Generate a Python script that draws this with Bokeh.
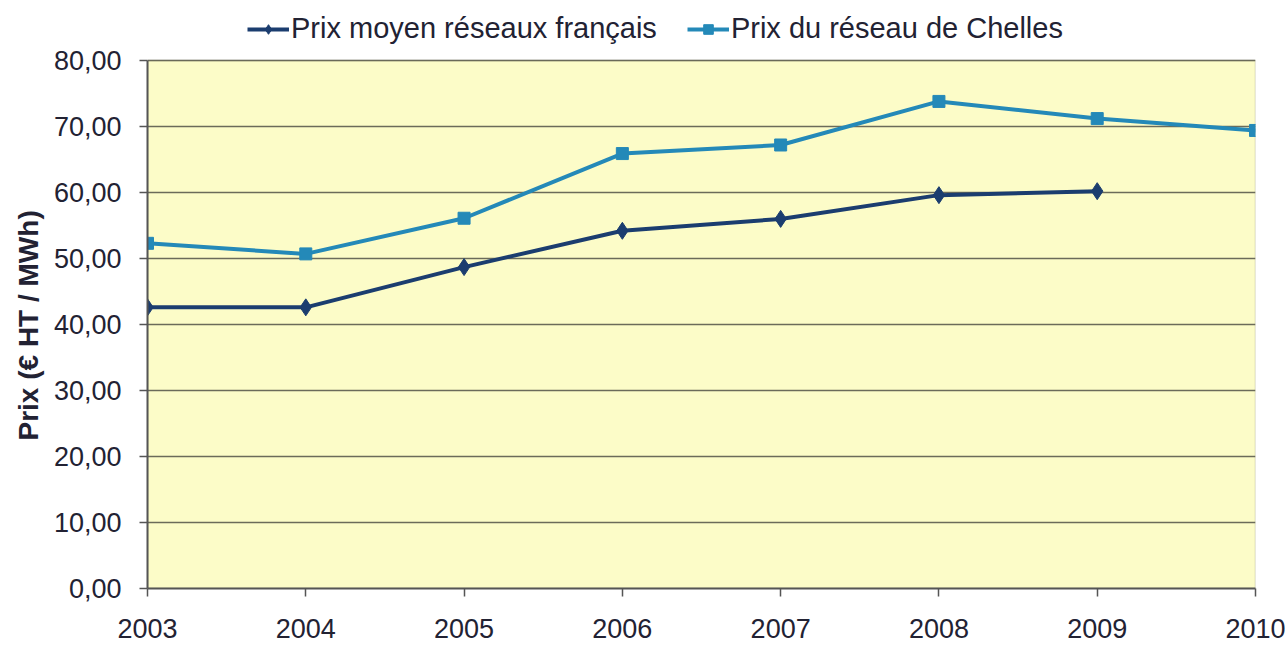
from bokeh.plotting import figure
from bokeh.models import (Legend, LegendItem, Range1d, FixedTicker, CustomJSTickFormatter,
                          BoxAnnotation, Title)
from bokeh.embed import file_html
from bokeh.resources import INLINE

years = [2003, 2004, 2005, 2006, 2007, 2008, 2009, 2010]
french_years = [2003, 2004, 2005, 2006, 2007, 2008, 2009]
french = [42.6, 42.6, 48.7, 54.2, 56.0, 59.6, 60.2]
chelles = [52.3, 50.7, 56.1, 65.9, 67.2, 73.8, 71.2, 69.4]
y_ticks = [0, 10, 20, 30, 40, 50, 60, 70, 80]
Y_MAX = 80

FONT = "Liberation Sans"
DARK = "#1b3d6f"
LIGHT = "#2489b8"
GRID = "#6b6b5a"
TEXT = "#222233"

# frame extends a little above 80 so that the legend (clipped to the frame) fits on top
p = figure(frame_width=1108, frame_height=580, output_backend="svg", toolbar_location=None,
           x_range=Range1d(2003, 2010), y_range=Range1d(0, 87.88),
           min_border_left=147, min_border_right=30, min_border_top=8, min_border_bottom=57)

p.background_fill_color = "white"
p.border_fill_color = "white"
p.outline_line_color = None

# yellow plotting area 0..80
p.add_layout(BoxAnnotation(bottom=0, top=Y_MAX, fill_color="#fcfcc8", fill_alpha=1.0,
                           line_color=None, level="image"))
p.add_layout(BoxAnnotation(bottom=0, top=Y_MAX, fill_alpha=0, line_color=GRID,
                           line_width=1.5, level="underlay"))

p.xgrid.visible = False
p.ygrid.grid_line_color = GRID
p.ygrid.grid_line_width = 1.5

p.xaxis.ticker = FixedTicker(ticks=years)
p.yaxis.ticker = FixedTicker(ticks=y_ticks)
p.yaxis.bounds = (0, Y_MAX)
p.yaxis.formatter = CustomJSTickFormatter(code="return tick.toFixed(2).replace('.', ',');")

for ax in (p.xaxis[0], p.yaxis[0]):
    ax.axis_line_color = "#555555"
    ax.axis_line_width = 2
    ax.major_tick_line_color = "#555555"
    ax.major_tick_line_width = 1.5
    ax.major_tick_out = 8
    ax.major_tick_in = 0
    ax.minor_tick_line_color = None
    ax.major_label_text_font = FONT
    ax.major_label_text_font_size = "27px"
    ax.major_label_text_color = TEXT

p.xaxis.major_label_standoff = 22
p.yaxis.major_label_standoff = 18

ytitle = Title(text="Prix (€ HT / MWh)", align="left", offset=148,
               text_font=FONT, text_font_size="28px", text_font_style="bold",
               text_color=TEXT, standoff=14)
p.add_layout(ytitle, "left")

l1 = p.line(french_years, french, line_color=DARK, line_width=4)
m1 = p.scatter(french_years, french, marker="diamond", size=17, fill_color=DARK, line_color=DARK)
l2 = p.line(years, chelles, line_color=LIGHT, line_width=4)
m2 = p.scatter(years, chelles, marker="square", size=12, fill_color=LIGHT, line_color=LIGHT)

legend = Legend(items=[
    LegendItem(label="Prix moyen réseaux français", renderers=[l1, m1]),
    LegendItem(label="Prix du réseau de Chelles", renderers=[l2, m2]),
], orientation="horizontal", location=(100, 543))
legend.label_text_font = FONT
legend.label_text_font_size = "29px"
legend.label_text_color = TEXT
legend.border_line_color = None
legend.background_fill_alpha = 0
legend.glyph_width = 42
legend.glyph_height = 24
legend.label_standoff = 2
legend.spacing = 30
legend.padding = 6
legend.margin = 0
p.add_layout(legend, "center")

open("out.html", "w").write(file_html(p, INLINE))
